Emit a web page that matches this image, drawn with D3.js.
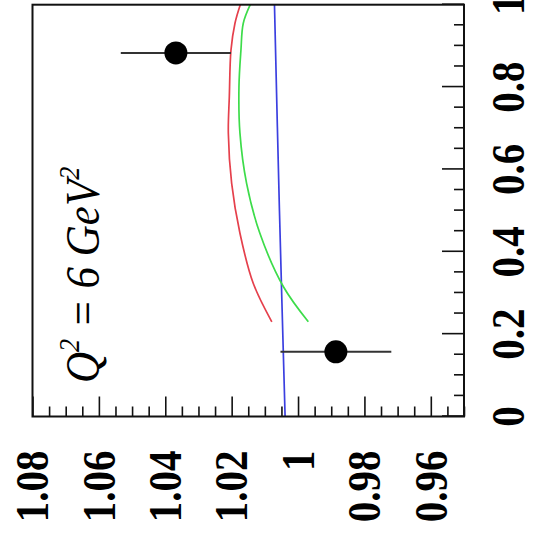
<!DOCTYPE html>
<html>
<head>
<meta charset="utf-8">
<script src="https://cdn.jsdelivr.net/npm/d3@7"></script>
<style>
  html, body { margin: 0; padding: 0; background: #fff; }
  svg { display: block; }
</style>
</head>
<body>
<script>
// ---- data ----
const xDomain = [0, 1];
const yDomain = [0.95, 1.08];
const xTickValues = [0, 0.2, 0.4, 0.6, 0.8, 1];
const xTickLabels = ["0", "0.2", "0.4", "0.6", "0.8", "1"];
const yTickValues = [0.96, 0.98, 1, 1.02, 1.04, 1.06, 1.08];
const yTickLabels = ["0.96", "0.98", "1", "1.02", "1.04", "1.06", "1.08"];

// measured points with symmetric errors
const pointX = [0.883, 0.157];
const pointY = [1.0368, 0.9886];
const pointErr = [0.0166, 0.0167];

// model curves
const redX   = [0.230, 0.3235, 0.445, 0.566, 0.688, 0.777, 0.890, 0.955, 1.0];
const redY   = [1.0079, 1.0135, 1.0175, 1.0200, 1.0210, 1.0207, 1.0202, 1.0190, 1.0174];
const greenX = [0.230, 0.315, 0.445, 0.566, 0.688, 0.800, 0.890, 0.955, 1.0];
const greenY = [0.9969, 1.0044, 1.0115, 1.0155, 1.0175, 1.0178, 1.0172, 1.0165, 1.0144];
const blueX  = [0, 0.5, 1];
const blueY  = [1.0039, 1.0056, 1.0071];

const panelLabel = { base: "Q", sup1: "2", mid: " = 6 GeV", sup2: "2" };

// ---- layout ----
// The panel is drawn in its usual orientation inside a group that is turned
// a quarter turn counter-clockwise.
const width = 533, height = 550;
const ox = 32.5, oy = 416.5;      // screen position of the (x=0, y=1.08) corner
const W = 411.8, H = 431.5;       // plot extent along x and along y
const serif = "'Liberation Serif', 'Times New Roman', Times, serif";

const svg = d3.select("body").append("svg")
  .attr("width", width).attr("height", height);

const g = svg.append("g").attr("transform", `translate(${ox},${oy}) rotate(-90)`);

const x = d3.scaleLinear().domain(xDomain).range([0, W]);
const y = d3.scaleLinear().domain(yDomain).range([H, 0]);

g.append("clipPath").attr("id", "plotClip")
  .append("rect").attr("x", 0).attr("y", 0).attr("width", W).attr("height", H);

// ---- ticks (pointing into the frame) ----
const yMinor = y.ticks(26).filter(v => !yTickValues.some(t => Math.abs(t - v) < 1e-9));
const xMinor = x.ticks(20).filter(v => !xTickValues.some(t => Math.abs(t - v) < 1e-9));

function styleAxis(sel) {
  sel.select(".domain").remove();
  sel.selectAll("line").attr("stroke", "#111").attr("stroke-width", 1.6);
  sel.selectAll("text").remove();
}

g.append("g").call(d3.axisRight(y).tickValues(yTickValues).tickSize(20).tickFormat(""))
  .call(styleAxis);
g.append("g").call(d3.axisRight(y).tickValues(yMinor).tickSize(10).tickFormat(""))
  .call(styleAxis);
g.append("g").attr("transform", `translate(0,${H})`)
  .call(d3.axisTop(x).tickValues(xTickValues).tickSize(22).tickFormat(""))
  .call(styleAxis);
g.append("g").attr("transform", `translate(0,${H})`)
  .call(d3.axisTop(x).tickValues(xMinor).tickSize(10).tickFormat(""))
  .call(styleAxis);

// ---- curves ----
const line = d3.line()
  .x(d => x(d[0])).y(d => y(d[1]))
  .curve(d3.curveCatmullRom.alpha(0.5));

const curves = [
  { xs: blueX, ys: blueY, color: "#3b3fe0" },
  { xs: redX, ys: redY, color: "#e5404c" },
  { xs: greenX, ys: greenY, color: "#3ddc4a" }
];
const curveLayer = g.append("g").attr("clip-path", "url(#plotClip)");
curves.forEach(c => {
  curveLayer.append("path")
    .datum(c.xs.map((v, i) => [v, c.ys[i]]))
    .attr("d", line)
    .attr("fill", "none")
    .attr("stroke", c.color)
    .attr("stroke-width", 1.7);
});

// ---- data points ----
const pts = pointX.map((v, i) => ({ x: v, y: pointY[i], e: pointErr[i] }));
g.selectAll(".err").data(pts).join("line")
  .attr("class", "err")
  .attr("x1", d => x(d.x)).attr("x2", d => x(d.x))
  .attr("y1", d => y(d.y - d.e)).attr("y2", d => y(d.y + d.e))
  .attr("stroke", "#333").attr("stroke-width", 2);
g.selectAll(".pt").data(pts).join("circle")
  .attr("class", "pt")
  .attr("cx", d => x(d.x)).attr("cy", d => y(d.y))
  .attr("r", 11.5).attr("fill", "#000");

// ---- frame ----
g.append("rect")
  .attr("x", 0).attr("y", 0).attr("width", W).attr("height", H)
  .attr("fill", "none").attr("stroke", "#111").attr("stroke-width", 2);

// ---- tick labels ----
const labelSize = 41, stretch = 1.12;
yTickValues.forEach((v, i) => {
  g.append("text")
    .attr("transform", `translate(-34,${y(v)}) scale(1,${stretch})`)
    .attr("text-anchor", "end")
    .attr("dominant-baseline", "central")
    .attr("font-family", serif).attr("font-weight", "bold")
    .attr("font-size", labelSize)
    .attr("fill", "#000")
    .text(yTickLabels[i]);
});
xTickValues.forEach((v, i) => {
  g.append("text")
    .attr("transform", `translate(${x(v)},${H + 60}) scale(1,${stretch})`)
    .attr("text-anchor", "middle")
    .attr("font-family", serif).attr("font-weight", "bold")
    .attr("font-size", labelSize)
    .attr("fill", "#000")
    .text(xTickLabels[i]);
});

// ---- panel label ----
const lab = g.append("text")
  .attr("transform", `translate(33.5,66.5) scale(1,1.12)`)
  .attr("font-family", serif).attr("font-style", "italic")
  .attr("font-size", 43).attr("fill", "#000");
lab.append("tspan").text(panelLabel.base);
lab.append("tspan").attr("font-size", 26).attr("dy", -18).text(panelLabel.sup1);
lab.append("tspan").attr("dy", 18).text(panelLabel.mid);
lab.append("tspan").attr("font-size", 26).attr("dy", -18).text(panelLabel.sup2);
</script>
</body>
</html>
